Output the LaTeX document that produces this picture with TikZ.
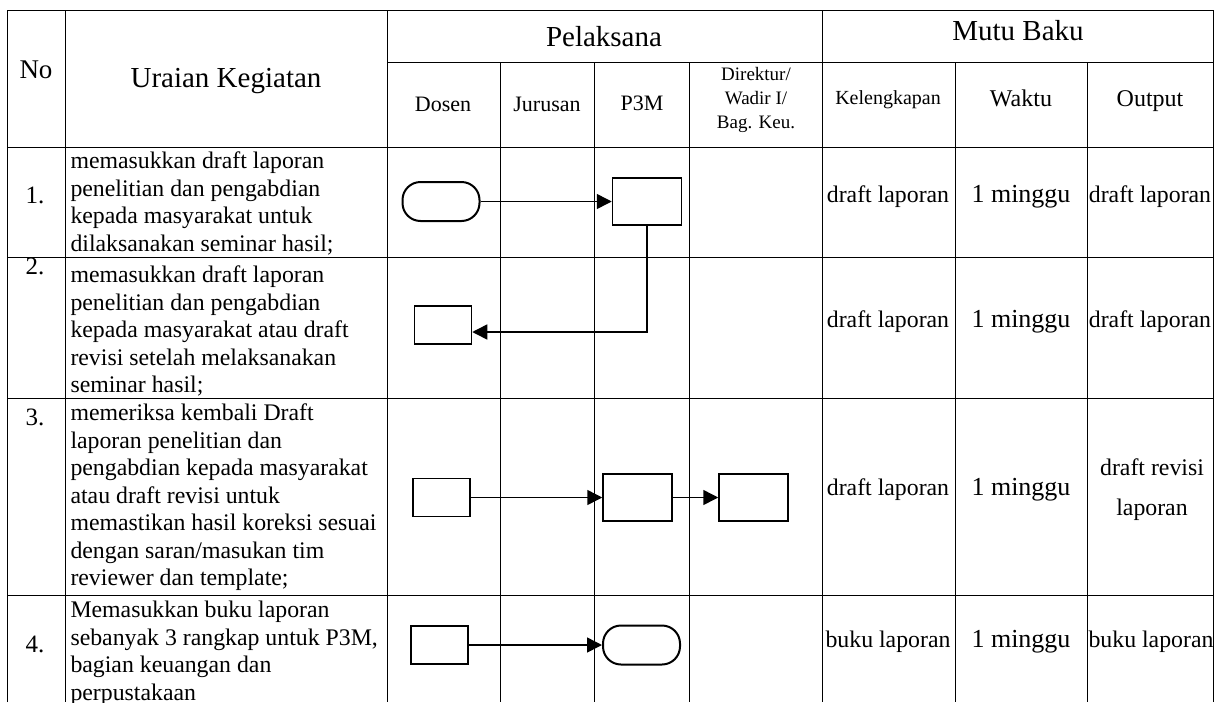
\documentclass[tikz,border=0pt]{standalone}
\usepackage{fontspec}
\setmainfont{Liberation Serif}
\usetikzlibrary{arrows.meta,positioning}

\begin{document}
\begin{tikzpicture}[x=1pt, y=-1pt, line width=1pt,
    every node/.style={inner sep=0pt},
    judul/.style={font=\fontsize{29}{33}\selectfont},
    kolom/.style={font=\fontsize{22}{25}\selectfont, anchor=base},
    isi/.style={font=\fontsize{23.8}{27.5}\selectfont, align=left, anchor=north west},
    nomor/.style={font=\fontsize{25}{28}\selectfont, anchor=base},
    mutu/.style={font=\fontsize{23.8}{40}\selectfont, align=center, anchor=base},
    waktu/.style={font=\fontsize{26}{30}\selectfont, anchor=base},
    kotak/.style={draw, line width=1.5pt, minimum width=57pt, minimum height=38pt},
    kotakbesar/.style={draw, line width=1.5pt, minimum width=69pt, minimum height=47pt},
    terminal/.style={draw, line width=2pt, rounded corners=18pt, minimum width=77pt, minimum height=39pt},
    panah/.style={line width=1.5pt, -{Triangle[length=15pt, width=15pt]}}]
  \useasboundingbox (0,0) rectangle (1219,702);

  % header
  \node[font=\fontsize{27}{30}\selectfont] (hNo) at (36,70) {No};
  \node[judul] (hUraian) at (226,81) {Uraian Kegiatan};
  \node[judul] (hPelaksana) at (604,37) {Pelaksana};
  \node[judul] (hMutu) at (1018,31) {Mutu Baku};
  \node[kolom] (hDosen) at (443,111) {Dosen};
  \node[kolom] (hJurusan) at (547,111) {Jurusan};
  \node[kolom] (hP3M) at (642,110) {P3M};
  \node[font=\fontsize{19}{24}\selectfont, align=center] (hDirektur) at (756,100) {Direktur/\\Wadir I/\\Bag. Keu.};
  \node[font=\fontsize{20}{24}\selectfont, anchor=base] (hKel) at (888,104) {Kelengkapan};
  \node[font=\fontsize{24}{28}\selectfont, anchor=base] (hWaktu) at (1021,106) {Waktu};
  \node[font=\fontsize{24}{28}\selectfont, anchor=base] (hOutput) at (1150,106) {Output};

  % baris 1
  \node[nomor] (n1) at (35,203) {1.};
  \node[isi] (u1) at (70,151.5) {memasukkan draft laporan\\penelitian dan pengabdian\\kepada masyarakat untuk\\dilaksanakan seminar hasil;};
  \node[mutu] (k1) at (888,202) {draft laporan};
  \node[waktu] (w1) at (1021,202) {1 minggu};
  \node[mutu] (o1) at (1150,202) {draft laporan};

  % baris 2
  \node[nomor] (n2) at (35,274) {2.};
  \node[isi] (u2) at (70,265.5) {memasukkan draft laporan\\penelitian dan pengabdian\\kepada masyarakat atau draft\\revisi setelah melaksanakan\\seminar hasil;};
  \node[mutu] (k2) at (888,327) {draft laporan};
  \node[waktu] (w2) at (1021,327) {1 minggu};
  \node[mutu] (o2) at (1150,327) {draft laporan};

  % baris 3
  \node[nomor] (n3) at (35,425) {3.};
  \node[isi] (u3) at (70,403.5) {memeriksa kembali Draft\\laporan penelitian dan\\pengabdian kepada masyarakat\\atau draft revisi untuk\\memastikan hasil koreksi sesuai\\dengan saran/masukan tim\\reviewer dan template;};
  \node[mutu] (k3) at (888,495) {draft laporan};
  \node[waktu] (w3) at (1021,495) {1 minggu};
  \node[mutu] (o3) at (1152,515) {draft revisi\\laporan};

  % baris 4
  \node[nomor] (n4) at (35,652) {4.};
  \node[isi] (u4) at (70,600.5) {Memasukkan buku laporan\\sebanyak 3 rangkap untuk P3M,\\bagian keuangan dan\\perpustakaan};
  \node[mutu] (k4) at (888,647) {buku laporan};
  \node[waktu] (w4) at (1021,647) {1 minggu};
  \node[mutu] (o4) at (1151,647) {buku laporan};

  % garis tabel
  \draw (7,702) -- (7,10) -- (1213,10) -- (1213,702);
  \draw (387,62) -- (1213,62);
  \foreach \y in {147,257,398,595}
    \draw (7,\y) -- (1213,\y);
  \foreach \x in {65,387,822}
    \draw (\x,10) -- (\x,702);
  \foreach \x in {500,594,689,955,1087}
    \draw (\x,62) -- (\x,702);

  % bagan alir
  \node[terminal] (t1) at (441,201.5) {};
  \node[kotakbesar] (p1) at (647,201.5) {};
  \node[kotak] (d2) at (443,325) {};
  \node[kotak] (d3) at (441.5,497.5) {};
  \node[kotakbesar] (p3) at (637.5,497.5) {};
  \node[kotakbesar] (r3) at (753.5,497.5) {};
  \node[kotak] (d4) at (439.5,645) {};
  \node[terminal] (t4) at (641.5,645) {};

  \draw[panah] (t1) -- (p1);
  \draw[panah] (p1.south) |- ([yshift=-7pt]d2.east);
  \draw[panah] (d3) -- (p3);
  \draw[panah] (p3) -- (r3);
  \draw[panah] (d4) -- (t4);
\end{tikzpicture}
\end{document}
